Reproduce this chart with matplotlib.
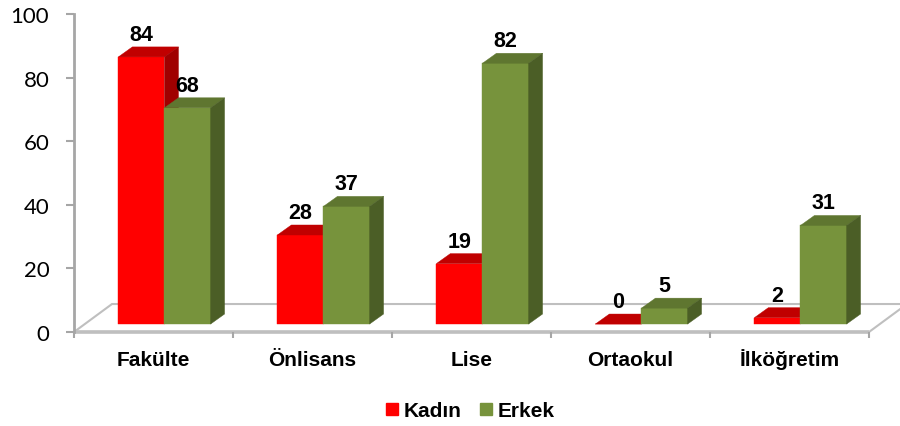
import matplotlib
matplotlib.use('Agg')
import matplotlib.pyplot as plt
from matplotlib.patches import Polygon
from matplotlib.lines import Line2D

plt.rcParams['font.family'] = ['Liberation Sans', 'DejaVu Sans']

# ---------------- data ----------------
categories = ['Fakülte', 'Önlisans', 'Lise', 'Ortaokul', 'İlköğretim']
kadin = [84, 28, 19, 0, 2]
erkek = [68, 37, 82, 5, 31]
series_names = ['Kadın', 'Erkek']
y_ticks = [0, 20, 40, 60, 80, 100]

# ---------------- style ----------------
W, H = 900, 427
FDX, FDY = 0.239, 8.8     # floor depth (category units, value units)
OX, OY = 0.069, 2.5       # bar front-plane offset
BDX, BDY = 0.088, 3.15    # bar depth
BW = 0.29                 # bar width
GRID_GRAY = '#BFBFBF'
AXIS_GRAY = '#A6A6A6'
palette = {
    'Kadın': ('#FF0000', '#C00000', '#A00000'),
    'Erkek': ('#77933C', '#5F7630', '#4B5E26'),
}

fig = plt.figure(figsize=(W / 100, H / 100), dpi=100)
ax = fig.add_axes([74 / W, (H - 333) / H, (869 - 74) / W, (333 - 15) / H])
ax.set_xlim(-0.5, len(categories) - 0.5)
ax.set_ylim(0, 100)

# floor
xl, xr = -0.5, len(categories) - 0.5
floor = Polygon([(xl, 0), (xr, 0), (xr + FDX, FDY), (xl + FDX, FDY)], closed=True,
                facecolor='white', edgecolor=GRID_GRAY, lw=1.5, clip_on=False, zorder=1)
ax.add_patch(floor)
ax.plot([xl, xr], [0, 0], color=GRID_GRAY, lw=2.6, clip_on=False, zorder=1.5,
        solid_capstyle='butt')

# bars
z = 3
series = [kadin, erkek]
for i in range(len(categories)):
    for s, vals in enumerate(series):
        v = vals[i]
        front, top, side = palette[series_names[s]]
        x0 = i - BW + OX + s * BW
        ax.bar(x0, v, width=BW, bottom=OY, align='edge', color=front,
               edgecolor=front, lw=0.3, clip_on=False, zorder=z)
        ax.add_patch(Polygon([(x0, OY + v), (x0 + BW, OY + v),
                              (x0 + BW + BDX, OY + v + BDY), (x0 + BDX, OY + v + BDY)],
                             closed=True, facecolor=top, edgecolor=top, lw=0.3,
                             clip_on=False, zorder=z + 0.1))
        ax.add_patch(Polygon([(x0 + BW, OY), (x0 + BW + BDX, OY + BDY),
                              (x0 + BW + BDX, OY + v + BDY), (x0 + BW, OY + v)],
                             closed=True, facecolor=side, edgecolor=side, lw=0.3,
                             clip_on=False, zorder=z + 0.2))
        ax.text(x0 + BW / 2, OY + v + BDY + 2.2, str(v), ha='center', va='baseline',
                fontsize=15.5, fontweight='bold', color='black', zorder=20)
        z += 1

# axes styling
for sp in ['top', 'right', 'bottom']:
    ax.spines[sp].set_visible(False)
ax.spines['left'].set_color(AXIS_GRAY)
ax.spines['left'].set_linewidth(2)

ax.set_yticks(y_ticks)
ax.set_yticklabels([str(t) for t in y_ticks], fontsize=16, family=['Lato', 'DejaVu Sans'])
ax.tick_params(axis='y', length=5.8, width=1.5, color=AXIS_GRAY, pad=12, labelcolor='black')

ax.set_xticks(range(len(categories)))
ax.set_xticklabels(categories, fontsize=15, fontweight='bold')
for lab in ax.get_xticklabels():
    lab.set_verticalalignment('baseline')
ax.tick_params(axis='x', which='major', length=0, pad=24)
ax.set_xticks([k - 0.5 for k in range(len(categories) + 1)], minor=True)
ax.tick_params(axis='x', which='minor', length=4.5, width=1.5, color=AXIS_GRAY)

# legend
handles = [Line2D([], [], linestyle='none', marker='s', markersize=8,
                  markerfacecolor=palette[n][0], markeredgecolor=palette[n][0])
           for n in series_names]
fig.legend(handles, series_names, loc='center', bbox_to_anchor=(470 / W, 1 - 412 / H),
           ncol=2, frameon=False, prop={'weight': 'bold', 'size': 15},
           handlelength=0.6, handletextpad=0.25, columnspacing=0.9, borderpad=0)

fig.savefig('out.png', dpi=100, facecolor='white')
